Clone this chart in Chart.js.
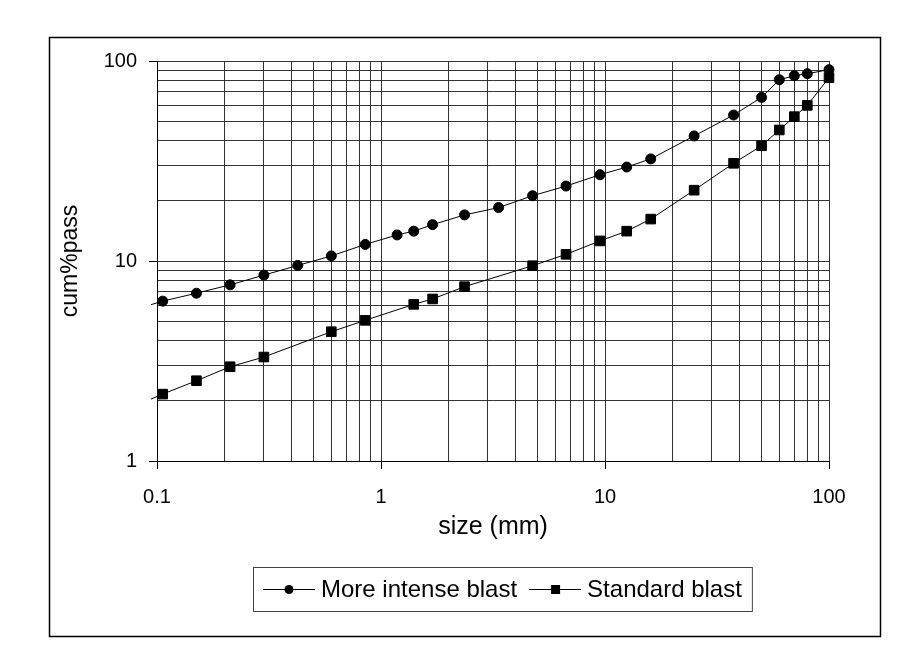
<!DOCTYPE html>
<html>
<head>
<meta charset="utf-8">
<script src="https://cdn.jsdelivr.net/npm/chart.js@4.4.1/dist/chart.umd.min.js"></script>
<style>
  html, body { margin: 0; padding: 0; background: #fff; }
  canvas { display: block; }
</style>
</head>
<body>
<canvas id="myChart" width="913" height="666"></canvas>
<script>
// sieve size (mm) vs cumulative % passing
// first and last points sit just outside the axes (lines run off the plot edge)
const sizesIntense = [0.075, 0.106, 0.15, 0.212, 0.3, 0.425, 0.6, 0.85, 1.18, 1.4, 1.7, 2.36, 3.35,
                      4.75, 6.7, 9.5, 12.5, 16, 25, 37.5, 50, 60, 70, 80, 100, 125];
const passIntense  = [5.6, 6.3, 6.9, 7.6, 8.5, 9.5, 10.6, 12.1, 13.5, 14.1, 15.2, 17.0, 18.5,
                      21.2, 23.7, 27.0, 29.5, 32.4, 42.2, 53.7, 65.8, 80.6, 84.4, 86.4, 90.5, 94];

const sizesStandard = [0.075, 0.106, 0.15, 0.212, 0.3, 0.6, 0.85, 1.4, 1.7, 2.36,
                       4.75, 6.7, 9.5, 12.5, 16, 25, 37.5, 50, 60, 70, 80, 100, 125];
const passStandard  = [1.83, 2.16, 2.52, 2.96, 3.31, 4.43, 5.05, 6.07, 6.46, 7.44,
                       9.47, 10.8, 12.6, 14.1, 16.2, 22.6, 30.8, 37.7, 45.2, 52.7, 60.0, 82.5, 91];

const seriesNames = ['More intense blast', 'Standard blast'];

const xMajor = [0.1, 1, 10, 100];
const xTickLabels = ['0.1', '1', '10', '100'];
const yMajor = [1, 10, 100];
const yTickLabels = ['1', '10', '100'];

const FONT = '"Liberation Sans", Arial, sans-serif';

// 1..9 within every decade, for the log grid
function logGrid(majors) {
    const out = [];
    for (let i = 0; i < majors.length - 1; i++) {
        for (let k = 1; k < 10; k++) out.push(+(majors[i] * k).toPrecision(4));
    }
    out.push(majors[majors.length - 1]);
    return out;
}
const xGrid = logGrid(xMajor);
const yGrid = logGrid(yMajor);

function majorIndex(v, majors) {
    return majors.findIndex(m => Math.abs(v / m - 1) < 1e-6);
}
const tickColorFor = majors => c => (c.tick && majorIndex(c.tick.value, majors) >= 0) ? '#000' : 'rgba(0,0,0,0)';

const frameAndLegend = {
    id: 'frameAndLegend',
    beforeDraw(chart) {
        const { ctx } = chart;
        ctx.save();
        ctx.fillStyle = '#fff';
        ctx.fillRect(0, 0, chart.width, chart.height);
        ctx.strokeStyle = '#000';
        ctx.lineWidth = 1.5;
        ctx.strokeRect(49.5, 37.5, 831, 599);
        ctx.restore();
    },
    afterDraw(chart) {
        const { ctx } = chart;
        ctx.save();
        ctx.font = '24px ' + FONT;
        ctx.textBaseline = 'middle';
        ctx.fillStyle = '#000';
        const cy = 589;
        let x = 263;
        chart.data.datasets.forEach((ds) => {
            ctx.strokeStyle = '#000';
            ctx.lineWidth = 1;
            ctx.beginPath();
            ctx.moveTo(x, cy + 0.5);
            ctx.lineTo(x + 52, cy + 0.5);
            ctx.stroke();
            ctx.beginPath();
            if (ds.pointStyle === 'rect') {
                ctx.rect(x + 22, cy - 4, 9, 9);
            } else {
                ctx.arc(x + 26, cy + 0.5, 4.5, 0, Math.PI * 2);
            }
            ctx.fill();
            ctx.fillText(ds.label, x + 58, cy + 1);
            x += 58 + ctx.measureText(ds.label).width + 12;
        });
        ctx.strokeStyle = '#444';
        ctx.lineWidth = 1;
        ctx.strokeRect(253.5, 567.5, x - 12 + 10 - 253, 44);
        ctx.restore();
    }
};

const data = {
    datasets: [
        {
            label: seriesNames[0],
            data: sizesIntense.map((s, i) => ({ x: s, y: passIntense[i] })),
            borderColor: '#000',
            borderWidth: 1,
            pointStyle: 'circle',
            pointRadius: 5,
            pointBackgroundColor: '#000',
            pointBorderColor: '#000',
            pointBorderWidth: 1,
            clip: { left: 6, top: 6, right: 8, bottom: 6 }
        },
        {
            label: seriesNames[1],
            data: sizesStandard.map((s, i) => ({ x: s, y: passStandard[i] })),
            borderColor: '#000',
            borderWidth: 1,
            pointStyle: 'rect',
            pointRadius: 6.8,
            pointBackgroundColor: '#000',
            pointBorderColor: '#000',
            pointBorderWidth: 1,
            clip: { left: 6, top: 6, right: 8, bottom: 6 }
        }
    ]
};

const options = {
    responsive: false,
    animation: false,
    events: [],
    layout: { padding: { left: 49, top: 61, right: 84, bottom: 124 } },
    plugins: { legend: { display: false }, tooltip: { enabled: false } },
    scales: {
        x: {
            type: 'logarithmic',
            min: 0.1,
            max: 100,
            afterBuildTicks: s => { s.ticks = xGrid.map(v => ({ value: v })); },
            afterFit: s => { s.height = 81; },
            ticks: {
                autoSkip: false,
                maxRotation: 0,
                padding: 16,
                color: '#000',
                font: { family: FONT, size: 20 },
                callback: v => { const i = majorIndex(v, xMajor); return i >= 0 ? xTickLabels[i] : ''; }
            },
            grid: { color: '#333', lineWidth: 1, tickLength: 8, tickColor: tickColorFor(xMajor) },
            border: { color: '#000', width: 1 },
            title: { display: true, text: 'size (mm)', color: '#000', font: { family: FONT, size: 25 }, padding: { top: 0, bottom: 0 } }
        },
        y: {
            type: 'logarithmic',
            min: 1,
            max: 100,
            afterBuildTicks: s => { s.ticks = yGrid.map(v => ({ value: v })); },
            afterFit: s => { s.width = 108; },
            ticks: {
                autoSkip: false,
                padding: 12,
                color: '#000',
                font: { family: FONT, size: 20 },
                callback: v => { const i = majorIndex(v, yMajor); return i >= 0 ? yTickLabels[i] : ''; }
            },
            grid: { color: '#333', lineWidth: 1, tickLength: 8, tickColor: tickColorFor(yMajor) },
            border: { color: '#000', width: 1 },
            title: { display: true, text: 'cum%pass', color: '#000', font: { family: FONT, size: 23 }, padding: { top: 8, bottom: 0 } }
        }
    }
};

const blastChart = new Chart(document.getElementById('myChart'), {
    type: 'line',
    data: data,
    options: options,
    plugins: [frameAndLegend]
});
</script>
</body>
</html>
